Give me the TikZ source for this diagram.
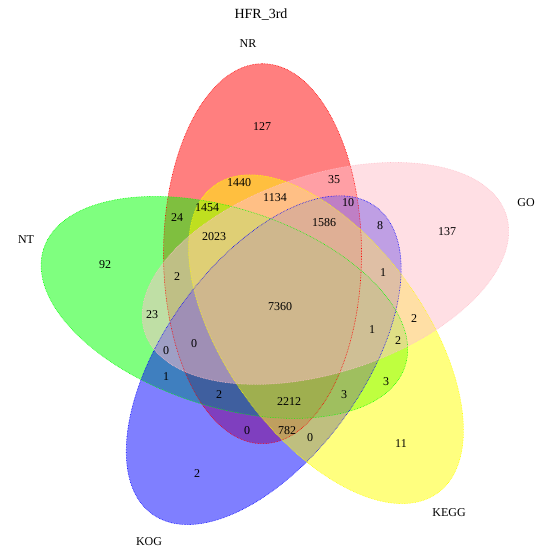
\documentclass[tikz,border=0pt]{standalone}
\usepackage{fontspec}
\setmainfont{Liberation Serif}
\definecolor{rpink}{RGB}{255,192,203}
\definecolor{rred}{RGB}{255,0,0}
\definecolor{rgreen}{RGB}{0,255,0}
\definecolor{rblue}{RGB}{0,0,255}
\definecolor{ryellow}{RGB}{255,255,0}
\begin{document}
\begin{tikzpicture}[x=1pt,y=-1pt,
  setfill/.style={fill=#1, fill opacity=0.5},
  setline/.style={draw=#1, densely dotted, line width=0.6pt},
  num/.style={font=\fontsize{12}{14}\selectfont, inner sep=0pt},
  catlab/.style={font=\fontsize{12}{14}\selectfont, inner sep=0pt},
  titlelab/.style={font=\fontsize{14}{16}\selectfont, inner sep=0pt}]
\useasboundingbox (0,0) rectangle (551,551);
\fill[white] (0,0) rectangle (551,551);
\coordinate (cNR) at (262.5,253.7);
\coordinate (cGO) at (325.4,273.4);
\coordinate (cKEGG) at (326.0,339.2);
\coordinate (cKOG) at (263.7,360.2);
\coordinate (cNT) at (224.4,307.4);
% fills
\fill[setfill=rred, rotate around={90:(cNR)}] (cNR) ellipse [x radius=190, y radius=99];
\fill[setfill=rgreen, rotate around={162:(cNT)}] (cNT) ellipse [x radius=190, y radius=99];
\fill[setfill=rblue, rotate around={-126:(cKOG)}] (cKOG) ellipse [x radius=190, y radius=99];
\fill[setfill=ryellow, rotate around={-54:(cKEGG)}] (cKEGG) ellipse [x radius=190, y radius=99];
\fill[setfill=rpink, rotate around={18:(cGO)}] (cGO) ellipse [x radius=190, y radius=99];
% borders
\draw[setline=rred, rotate around={90:(cNR)}] (cNR) ellipse [x radius=190, y radius=99];
\draw[setline=rgreen, rotate around={162:(cNT)}] (cNT) ellipse [x radius=190, y radius=99];
\draw[setline=rblue, rotate around={-126:(cKOG)}] (cKOG) ellipse [x radius=190, y radius=99];
\draw[setline=ryellow, rotate around={-54:(cKEGG)}] (cKEGG) ellipse [x radius=190, y radius=99];
\draw[setline=rpink, rotate around={18:(cGO)}] (cGO) ellipse [x radius=190, y radius=99];
% title and categories
\node[titlelab] (title) at (261,15) {HFR\_3rd};
\node[catlab] (lNR) at (248,44) {NR};
\node[catlab] (lGO) at (526,203) {GO};
\node[catlab] (lKEGG) at (449,513) {KEGG};
\node[catlab] (lKOG) at (149,542) {KOG};
\node[catlab] (lNT) at (26,240) {NT};
% numbers
\node[num] (n1) at (262,127) {127};
\node[num] (n2) at (334,180) {35};
\node[num] (n3) at (239,183) {1440};
\node[num] (n4) at (275,198) {1134};
\node[num] (n5) at (348,203) {10};
\node[num] (n6) at (177,218) {24};
\node[num] (n7) at (207,208) {1454};
\node[num] (n8) at (324,223) {1586};
\node[num] (n9) at (380,226) {8};
\node[num] (n10) at (214,237) {2023};
\node[num] (n11) at (177,277) {2};
\node[num] (n12) at (383,273) {1};
\node[num] (n13) at (105,265) {92};
\node[num] (n14) at (447,232) {137};
\node[num] (n15) at (280,307) {7360};
\node[num] (n16) at (152,315) {23};
\node[num] (n17) at (414,319) {2};
\node[num] (n18) at (372,330) {1};
\node[num] (n19) at (398,341) {2};
\node[num] (n20) at (166,351) {0};
\node[num] (n21) at (194,344) {0};
\node[num] (n22) at (166,377) {1};
\node[num] (n23) at (386,382) {3};
\node[num] (n24) at (219,395) {2};
\node[num] (n25) at (344,395) {3};
\node[num] (n26) at (289,402) {2212};
\node[num] (n27) at (247,431) {0};
\node[num] (n28) at (287,431) {782};
\node[num] (n29) at (310,438) {0};
\node[num] (n30) at (197,474) {2};
\node[num] (n31) at (401,444) {11};
\end{tikzpicture}
\end{document}
